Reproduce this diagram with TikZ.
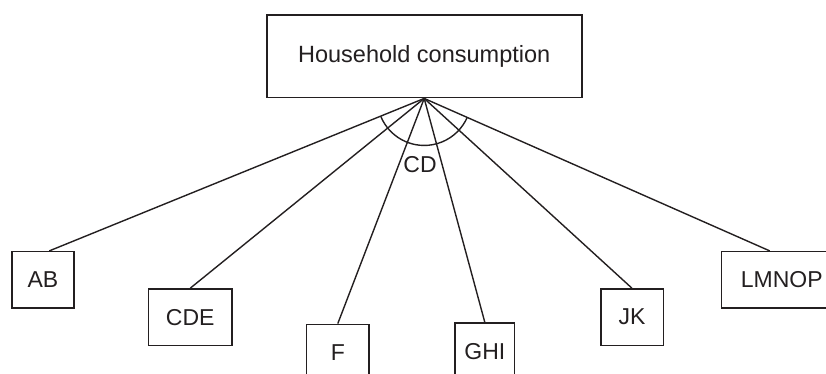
\documentclass[tikz,border=0pt]{standalone}
\usepackage{fontspec}
\setmainfont{Liberation Sans}
\usetikzlibrary{calc}
\definecolor{ink}{RGB}{35,31,32}
\begin{document}
\begin{tikzpicture}[x=1pt,y=1pt,
  box/.style={draw=ink,line width=1.6pt,inner sep=0pt,text=ink,font=\fontsize{23}{27}\selectfont},
  link/.style={draw=ink,line width=1.4pt}]
\useasboundingbox (0,0) rectangle (826,374);
\clip (0,0) rectangle (826,374);
\node[box,minimum width=315,minimum height=82.7,font=\fontsize{23.5}{28}\selectfont] (top) at (424.2,317.7) {Household consumption};
\node[box,minimum width=62.3,minimum height=56.6] (ab) at (42.9,94) {AB};
\node[box,minimum width=83.7,minimum height=56.3] (cde) at (190.2,56.8) {CDE};
\node[box,minimum width=62.3,minimum height=56.5] (f) at (337.8,21.4) {F};
\node[box,minimum width=59.7,minimum height=56.5] (ghi) at (484.8,22.7) {GHI};
\node[box,minimum width=62.6,minimum height=56.3] (jk) at (632,56.8) {JK};
\node[box,minimum width=120.7,minimum height=56.6] (lmnop) at (781.7,94) {LMNOP};
\coordinate (apex) at (top.south);
\draw[link] (apex) -- ($(ab.north)+(6.4,0)$);
\draw[link] (apex) -- (cde.north);
\draw[link] (apex) -- (f.north);
\draw[link] (apex) -- (ghi.north);
\draw[link] (apex) -- (jk.north);
\draw[link] (apex) -- ($(lmnop.north)+(-12,0)$);
\draw[link] ($(apex)+(202.25:47)$) arc[start angle=202.25,end angle=335.96,radius=47];
\node[text=ink,font=\fontsize{23}{27}\selectfont,inner sep=0pt] (cd) at (420,209) {CD};
\end{tikzpicture}
\end{document}
